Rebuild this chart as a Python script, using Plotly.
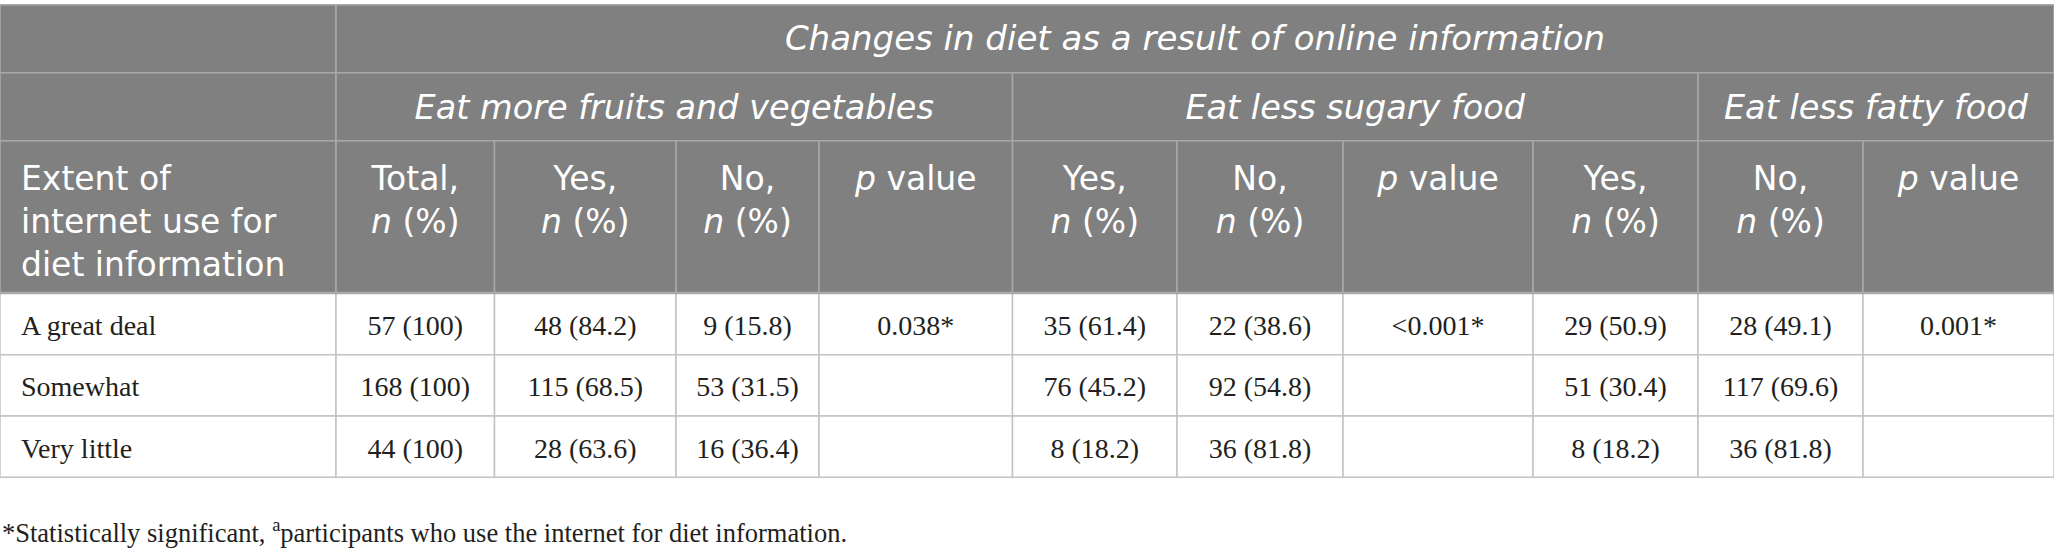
import plotly.graph_objects as go

# table data
extent = ["A great deal", "Somewhat", "Very little"]
total_n = [57, 168, 44]
total_pct = [100, 100, 100]
fruit_yes_n = [48, 115, 28]
fruit_yes_pct = [84.2, 68.5, 63.6]
fruit_no_n = [9, 53, 16]
fruit_no_pct = [15.8, 31.5, 36.4]
fruit_p = ["0.038*", "", ""]
sugar_yes_n = [35, 76, 8]
sugar_yes_pct = [61.4, 45.2, 18.2]
sugar_no_n = [22, 92, 36]
sugar_no_pct = [38.6, 54.8, 81.8]
sugar_p = ["<0.001*", "", ""]
fat_yes_n = [29, 51, 8]
fat_yes_pct = [50.9, 30.4, 18.2]
fat_no_n = [28, 117, 36]
fat_no_pct = [49.1, 69.6, 81.8]
fat_p = ["0.001*", "", ""]

title_row = "Changes in diet as a result of online information"
groups = ["Eat more fruits and vegetables", "Eat less sugary food", "Eat less fatty food"]
group_spans = [4, 4, 2]  # columns covered by each group (after the first column)
col_heads = ["Extent of<br>internet use for<br>diet information",
             "Total,<br><i>n</i> (%)", "Yes,<br><i>n</i> (%)", "No,<br><i>n</i> (%)", "<i>p</i> value",
             "Yes,<br><i>n</i> (%)", "No,<br><i>n</i> (%)", "<i>p</i> value",
             "Yes,<br><i>n</i> (%)", "No,<br><i>n</i> (%)", "<i>p</i> value"]
footnote = "*Statistically significant, <sup>a</sup>participants who use the internet for diet information."


def fmt(ns, pcts):
    return [f"{n} ({p})" for n, p in zip(ns, pcts)]


columns = [extent,
           fmt(total_n, total_pct), fmt(fruit_yes_n, fruit_yes_pct), fmt(fruit_no_n, fruit_no_pct), fruit_p,
           fmt(sugar_yes_n, sugar_yes_pct), fmt(sugar_no_n, sugar_no_pct), sugar_p,
           fmt(fat_yes_n, fat_yes_pct), fmt(fat_no_n, fat_no_pct), fat_p]

# layout geometry (pixels); axes span the whole figure so data units = pixels
W, H = 2054, 557
col_w = [336, 158.5, 181.5, 143, 193.5, 164.5, 166, 190, 165, 165, 191]
row_h = [68, 68, 152.3, 61.7, 61.3, 61.3]
top = 4.7

x_edges = [0]
for w in col_w:
    x_edges.append(x_edges[-1] + w)
y_edges = [top]
for h in row_h:
    y_edges.append(y_edges[-1] + h)

HEAD_FILL = "#808080"
HEAD_LINE = "#a9a9a9"
BODY_LINE = "#c2c2c2"
SANS = "DejaVu Sans"
SERIF = "Liberation Serif"
INK = "#231f20"

shapes = []


def cell(x0, x1, y0, y1, fill, line, lw=1.5):
    shapes.append(dict(type="rect", xref="x", yref="y", x0=x0, x1=x1, y0=y0, y1=y1,
                       fillcolor=fill, line=dict(color=line, width=lw), layer="below"))


# header row 1
cell(x_edges[0], x_edges[1], y_edges[0], y_edges[1], HEAD_FILL, HEAD_LINE)
cell(x_edges[1], x_edges[-1], y_edges[0], y_edges[1], HEAD_FILL, HEAD_LINE)
# header row 2
cell(x_edges[0], x_edges[1], y_edges[1], y_edges[2], HEAD_FILL, HEAD_LINE)
group_x = []
c = 1
for span in group_spans:
    cell(x_edges[c], x_edges[c + span], y_edges[1], y_edges[2], HEAD_FILL, HEAD_LINE)
    group_x.append((x_edges[c] + x_edges[c + span]) / 2)
    c += span
# header row 3
for i in range(len(col_w)):
    cell(x_edges[i], x_edges[i + 1], y_edges[2], y_edges[3], HEAD_FILL, HEAD_LINE)
# body
for r in range(len(extent)):
    for i in range(len(col_w)):
        cell(x_edges[i], x_edges[i + 1], y_edges[3 + r], y_edges[4 + r], "white", BODY_LINE)
# header/body divider
shapes.append(dict(type="line", xref="x", yref="y", x0=0, x1=x_edges[-1], y0=y_edges[3], y1=y_edges[3],
                   line=dict(color="#a9a9a9", width=2.5)))

centers = [(x_edges[i] + x_edges[i + 1]) / 2 for i in range(len(col_w))]
row_mid = [(y_edges[3 + r] + y_edges[4 + r]) / 2 + 4 for r in range(len(extent))]

fig = go.Figure()

# header texts
fig.add_trace(go.Scatter(x=[(x_edges[1] + x_edges[-1]) / 2], y=[(y_edges[0] + y_edges[1]) / 2 + 3],
                         text=["<i>" + title_row + "</i>"], mode="text", textposition="middle center",
                         textfont=dict(family=SANS, size=34, color="white"), hoverinfo="skip"))
fig.add_trace(go.Scatter(x=group_x, y=[(y_edges[1] + y_edges[2]) / 2 + 4] * len(groups),
                         text=["<i>" + g + "</i>" for g in groups], mode="text", textposition="middle center",
                         textfont=dict(family=SANS, size=33.5, color="white"), hoverinfo="skip"))
fig.add_trace(go.Scatter(x=[21], y=[y_edges[2] + 25], text=[col_heads[0]], mode="text",
                         textposition="bottom right",
                         textfont=dict(family=SANS, size=33, color="white"), hoverinfo="skip"))
fig.add_trace(go.Scatter(x=centers[1:], y=[y_edges[2] + 25] * (len(col_heads) - 1), text=col_heads[1:],
                         mode="text", textposition="bottom center",
                         textfont=dict(family=SANS, size=33, color="white"), hoverinfo="skip"))

# body texts
fig.add_trace(go.Scatter(x=[21] * len(extent), y=row_mid, text=columns[0], mode="text",
                         textposition="middle right",
                         textfont=dict(family=SERIF, size=28, color=INK), hoverinfo="skip"))
for i in range(1, len(columns)):
    xs = [centers[i] for t in columns[i] if t]
    ys = [row_mid[r] for r, t in enumerate(columns[i]) if t]
    ts = [t for t in columns[i] if t]
    fig.add_trace(go.Scatter(x=xs, y=ys, text=ts, mode="text", textposition="middle center",
                             textfont=dict(family=SERIF, size=28, color=INK), hoverinfo="skip"))

fig.add_annotation(x=0, y=531, xref="x", yref="y", text=footnote, showarrow=False,
                   xanchor="left", yanchor="middle", font=dict(family=SERIF, size=26.5, color=INK))

fig.update_layout(width=W, height=H, margin=dict(l=0, r=0, t=0, b=0),
                  paper_bgcolor="white", plot_bgcolor="white", showlegend=False, shapes=shapes,
                  xaxis=dict(range=[0, W], visible=False, fixedrange=True),
                  yaxis=dict(range=[H, 0], visible=False, fixedrange=True))

# drop the default 8px page margin so the figure fills the window exactly
fig.write_html("out.html", config={"displayModeBar": False},
               post_script="document.body.style.margin='0';")
